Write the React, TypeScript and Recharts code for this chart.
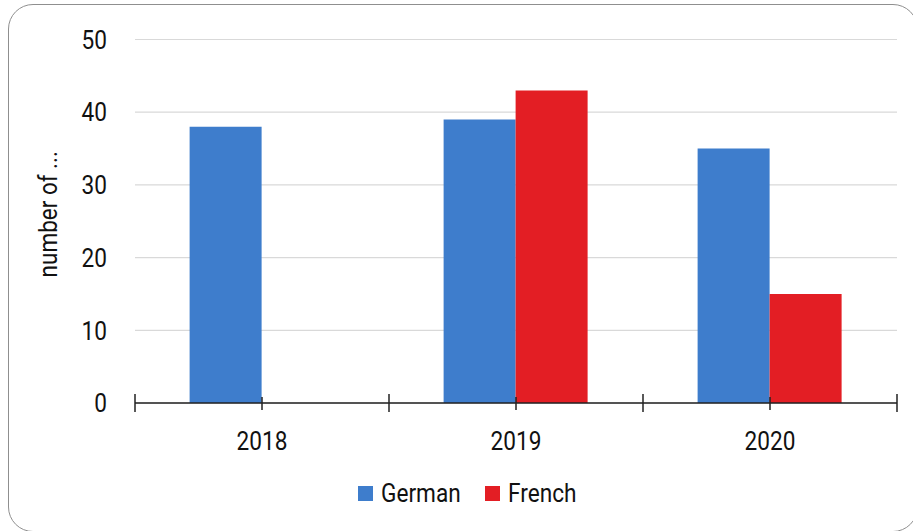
import React from "react";
import { BarChart, Bar, XAxis, YAxis, CartesianGrid, Legend } from "recharts";

const categories = ["2018", "2019", "2020"];
const germanValues = [38, 39, 35];
const frenchValues: (number | null)[] = [null, 43, 15];
const yTicks = [0, 10, 20, 30, 40, 50];
const seriesNames = ["German", "French"];
const colors = ["#3e7dcc", "#e31e24"];

const data = categories.map((c, i) => ({ year: c, German: germanValues[i], French: frenchValues[i] }));

const FONT = "Roboto, 'Noto Sans', sans-serif";
const SX = 0.87;
const CHART_W = 913;
const MARGIN = { top: 39.5, right: 16, left: 0, bottom: 23 };
const Y_AXIS_W = 135;
const X_TICK_MARGIN = 28.7;

const YTick = (props: any) => {
  const { x, y, payload } = props;
  return (
    <text transform={`translate(${x},${y}) scale(${SX},1)`} textAnchor="end" dy="0.355em" fontSize={26} fontFamily={FONT} fill="#111">
      {payload.value}
    </text>
  );
};

const XTick = (props: any) => {
  const { x, y, payload, index, visibleTicksCount } = props;
  const n = visibleTicksCount || categories.length;
  const plotW = typeof props.width === "number" && props.width > 0 ? props.width : CHART_W - MARGIN.left - MARGIN.right - Y_AXIS_W;
  const band = plotW / n;
  const axisY = y - X_TICK_MARGIN;
  const stroke = "#222";
  return (
    <g>
      <line x1={x - band / 2} x2={x - band / 2} y1={axisY - 9} y2={axisY + 9} stroke={stroke} strokeWidth={1.5} />
      {index === n - 1 && (
        <line x1={x + band / 2} x2={x + band / 2} y1={axisY - 9} y2={axisY + 9} stroke={stroke} strokeWidth={1.5} />
      )}
      <line x1={x} x2={x} y1={axisY - 6} y2={axisY + 7} stroke={stroke} strokeWidth={1.5} />
      <text transform={`translate(${x},${y}) scale(${SX},1)`} textAnchor="middle" dy="0.71em" fontSize={26} fontFamily={FONT} fill="#111">
        {payload.value}
      </text>
    </g>
  );
};

const YLabel = (props: any) => {
  const vb = props.viewBox || { x: 0, y: 0, width: 0, height: 0 };
  const cx = vb.x + 57;
  const cy = vb.y + vb.height / 2 - 7;
  return (
    <text transform={`translate(${cx},${cy}) rotate(-90) scale(0.9,1)`} textAnchor="middle" fontSize={25} fontFamily={FONT} fill="#111">
      number of ...
    </text>
  );
};

const LegendContent = () => {
  const items = [
    { sq: 358, tx: 381 },
    { sq: 485, tx: 508 },
  ];
  return (
    <div style={{ position: "relative", width: 913, height: 30 }}>
      {seriesNames.map((n, i) => (
        <React.Fragment key={n}>
          <div style={{ position: "absolute", left: items[i].sq, top: 8, width: 15, height: 15, background: colors[i] }} />
          <div
            style={{
              position: "absolute",
              left: items[i].tx,
              top: 0,
              fontFamily: FONT,
              fontSize: 26,
              lineHeight: "30px",
              color: "#111",
              transform: `scaleX(${SX})`,
              transformOrigin: "left center",
              whiteSpace: "nowrap",
            }}
          >
            {n}
          </div>
        </React.Fragment>
      ))}
    </div>
  );
};

export default function App() {
  return (
    <div style={{ position: "absolute", left: 0, top: 0, width: 913, height: 531, overflow: "hidden", background: "#fff" }}>
      <div
        style={{
          position: "absolute",
          left: 8,
          top: 4,
          width: 910,
          height: 528,
          border: "1.5px solid #8f8f8f",
          borderRadius: 25,
          boxSizing: "border-box",
        }}
      />
      <div style={{ position: "absolute", left: 0, top: 0 }}>
        <BarChart
          width={CHART_W}
          height={531}
          data={data}
          margin={MARGIN}
          barCategoryGap="21.5%"
          barGap={0}
        >
          <CartesianGrid vertical={false} stroke="#d9d9d9" strokeWidth={1.2} />
          <XAxis
            dataKey="year"
            height={75}
            tickLine={false}
            tickSize={0}
            tickMargin={X_TICK_MARGIN}
            axisLine={{ stroke: "#222", strokeWidth: 1.5 }}
            tick={<XTick />}
            interval={0}
          />
          <YAxis
            width={Y_AXIS_W}
            domain={[0, 50]}
            ticks={yTicks}
            interval={0}
            axisLine={false}
            tickLine={false}
            tickSize={0}
            tickMargin={28}
            tick={<YTick />}
            label={{ value: "number of ...", content: <YLabel /> }}
          />
          <Bar dataKey="German" fill={colors[0]} isAnimationActive={false} />
          <Bar dataKey="French" fill={colors[1]} isAnimationActive={false} />
          <Legend verticalAlign="bottom" content={<LegendContent />} wrapperStyle={{ left: 0, bottom: 23, width: 913, height: 30 }} />
        </BarChart>
      </div>
    </div>
  );
}
